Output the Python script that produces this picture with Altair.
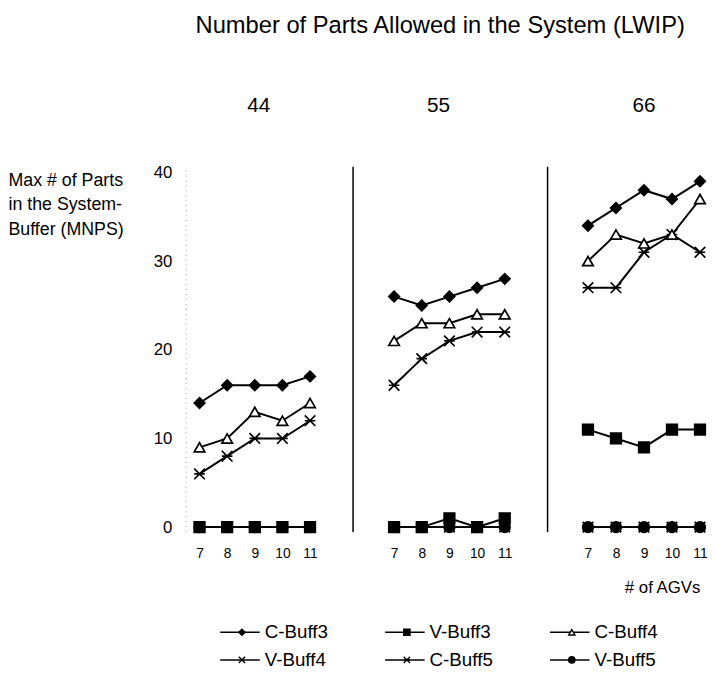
import altair as alt
import pandas as pd

agvs = [7, 8, 9, 10, 11]
lwip_levels = [44, 55, 66]
series_names = ["C-Buff3", "V-Buff3", "C-Buff4", "V-Buff4", "C-Buff5", "V-Buff5"]

# values for LWIP = 44, 55, 66 (each 5 values for AGVs 7..11)
c_buff3 = {44: [14, 16, 16, 16, 17], 55: [26, 25, 26, 27, 28], 66: [34, 36, 38, 37, 39]}
v_buff3 = {44: [0, 0, 0, 0, 0], 55: [0, 0, 1, 0, 1], 66: [11, 10, 9, 11, 11]}
c_buff4 = {44: [9, 10, 13, 12, 14], 55: [21, 23, 23, 24, 24], 66: [30, 33, 32, 33, 37]}
v_buff4 = {44: [0, 0, 0, 0, 0], 55: [0, 0, 0, 0, 0], 66: [0, 0, 0, 0, 0]}
c_buff5 = {44: [6, 8, 10, 10, 12], 55: [16, 19, 21, 22, 22], 66: [27, 27, 31, 33, 31]}
v_buff5 = {44: [0, 0, 0, 0, 0], 55: [0, 0, 0, 0, 0], 66: [0, 0, 0, 0, 0]}

series_values = {
    "C-Buff3": c_buff3, "V-Buff3": v_buff3, "C-Buff4": c_buff4,
    "V-Buff4": v_buff4, "C-Buff5": c_buff5, "V-Buff5": v_buff5,
}
draw_order = ["V-Buff4", "V-Buff5", "V-Buff3", "C-Buff5", "C-Buff4", "C-Buff3"]

rows = []
for s in draw_order:
    for lv in lwip_levels:
        for a, v in zip(agvs, series_values[s][lv]):
            rows.append({"series": s, "lwip": lv, "agv": a, "value": v})
df = pd.DataFrame(rows)

legend_col = [0, 1, 2, 0, 1, 2]
legend_row = [0, 0, 0, 1, 1, 1]
legend_df = pd.DataFrame({"series": series_names, "col": legend_col, "row": legend_row})

FONT = "Liberation Sans"
X_PATH = "M-1,-1L1,1M-1,1L1,-1"
STAR_PATH = "M-1,-1L1,1M-1,1L1,-1M-1,0L1,0"
shape_scale = alt.Scale(domain=series_names,
                        range=["diamond", "square", "triangle-up", X_PATH, STAR_PATH, "circle"])
fill_scale = alt.Scale(domain=series_names,
                       range=["black", "black", "white", "transparent", "transparent", "black"])

Y_SCALE = alt.Scale(domain=[-0.5, 40.7], nice=False, zero=False)
H = 370

panel_specs = {
    44: dict(width=169, domain=[6.5, 12.54], hdx=4),
    55: dict(width=197, domain=[5.5, 12.53], hdx=-11),
    66: dict(width=158, domain=[5.54, 11.11], hdx=0),
}


def panel(level):
    spec = panel_specs[level]
    d = df[df["lwip"] == level]
    xaxis = alt.Axis(values=agvs, tickCount=5, ticks=False, domain=False, grid=False,
                     labelFontSize=14, labelPadding=15, labelFont=FONT, labelFlush=False,
                     labelOverlap=False, title=None)
    if level == 44:
        yaxis = alt.Axis(values=[0, 10, 20, 30, 40], ticks=False, grid=False,
                         labelFontSize=17, labelPadding=14, labelFont=FONT,
                         domainColor="#999999", domainDash=[1, 4], domainWidth=1,
                         title=["Max # of Parts", "in the System-", "Buffer (MNPS)"],
                         titleAngle=0, titleAlign="left", titleBaseline="top",
                         titleX=-180, titleY=5, titleFont=FONT, titleFontSize=18,
                         titleFontWeight="normal", titleLineHeight=25)
    else:
        yaxis = alt.Axis(labels=False, ticks=False, grid=False, title=None,
                         domainColor="black", domainWidth=1.5)
    x = alt.X("agv:Q", scale=alt.Scale(domain=spec["domain"], nice=False, zero=False), axis=xaxis)
    y = alt.Y("value:Q", scale=Y_SCALE, axis=yaxis)
    base = alt.Chart(d)
    lines = base.mark_line(color="black", strokeWidth=2).encode(
        x=x, y=y, detail="series:N", order="agv:Q")
    pts = base.mark_point(filled=True, stroke="black", strokeWidth=1.7, opacity=1, size=115).encode(
        x=x, y=y,
        shape=alt.Shape("series:N", scale=shape_scale, legend=None),
        fill=alt.Fill("series:N", scale=fill_scale, legend=None))
    header = alt.Chart(pd.DataFrame({"lwip": [str(level)]})).mark_text(
        font=FONT, fontSize=21, baseline="middle", align="center", dx=spec["hdx"]).encode(
        x=alt.datum(9), y=alt.value(-61), text="lwip:N")
    layers = [lines, pts, header]
    if level == 66:
        xtitle = alt.Chart(pd.DataFrame({"t": ["# of AGVs"]})).mark_text(
            font=FONT, fontSize=17, baseline="middle", align="center").encode(
            x=alt.value(117), y=alt.value(H + 57), text="t:N")
        layers.append(xtitle)
    return alt.layer(*layers).properties(width=spec["width"], height=H)


top = alt.hconcat(panel(44), panel(55), panel(66), spacing=0, bounds="flush")

lx = alt.X("col:Q", scale=alt.Scale(domain=[-0.341, 2.820], nice=False, zero=False), axis=None)
ly = alt.Y("row:Q", scale=alt.Scale(domain=[-0.3571, 1.3571], reverse=True, nice=False, zero=False), axis=None)
lbase = alt.Chart(legend_df)
lrule = lbase.mark_rule(color="black", strokeWidth=1.5, xOffset=-22, x2Offset=18).encode(
    x=lx, x2=alt.X2("col:Q"), y=ly)
lpts = lbase.mark_point(filled=True, stroke="black", strokeWidth=1.4, opacity=1, size=40).encode(
    x=lx, y=ly,
    shape=alt.Shape("series:N", scale=shape_scale, legend=None),
    fill=alt.Fill("series:N", scale=fill_scale, legend=None))
ltext = lbase.mark_text(font=FONT, fontSize=19, align="left", baseline="middle", dx=23).encode(
    x=lx, y=ly, text="series:N")
legend = alt.layer(lrule, lpts, ltext).properties(width=528, height=48)

chart = alt.vconcat(top, legend, spacing=27).properties(
    title=alt.TitleParams("Number of Parts Allowed in the System (LWIP)", font=FONT, fontSize=24,
                          fontWeight="normal", color="black", anchor="start", dx=190, offset=58),
    padding={"left": 0, "top": 2, "right": 0, "bottom": 0},
).resolve_scale(shape="shared", fill="shared").configure(
    font=FONT, view=alt.ViewConfig(stroke=None))

chart.save("out.html", embed_options={"renderer": "svg", "actions": False})
